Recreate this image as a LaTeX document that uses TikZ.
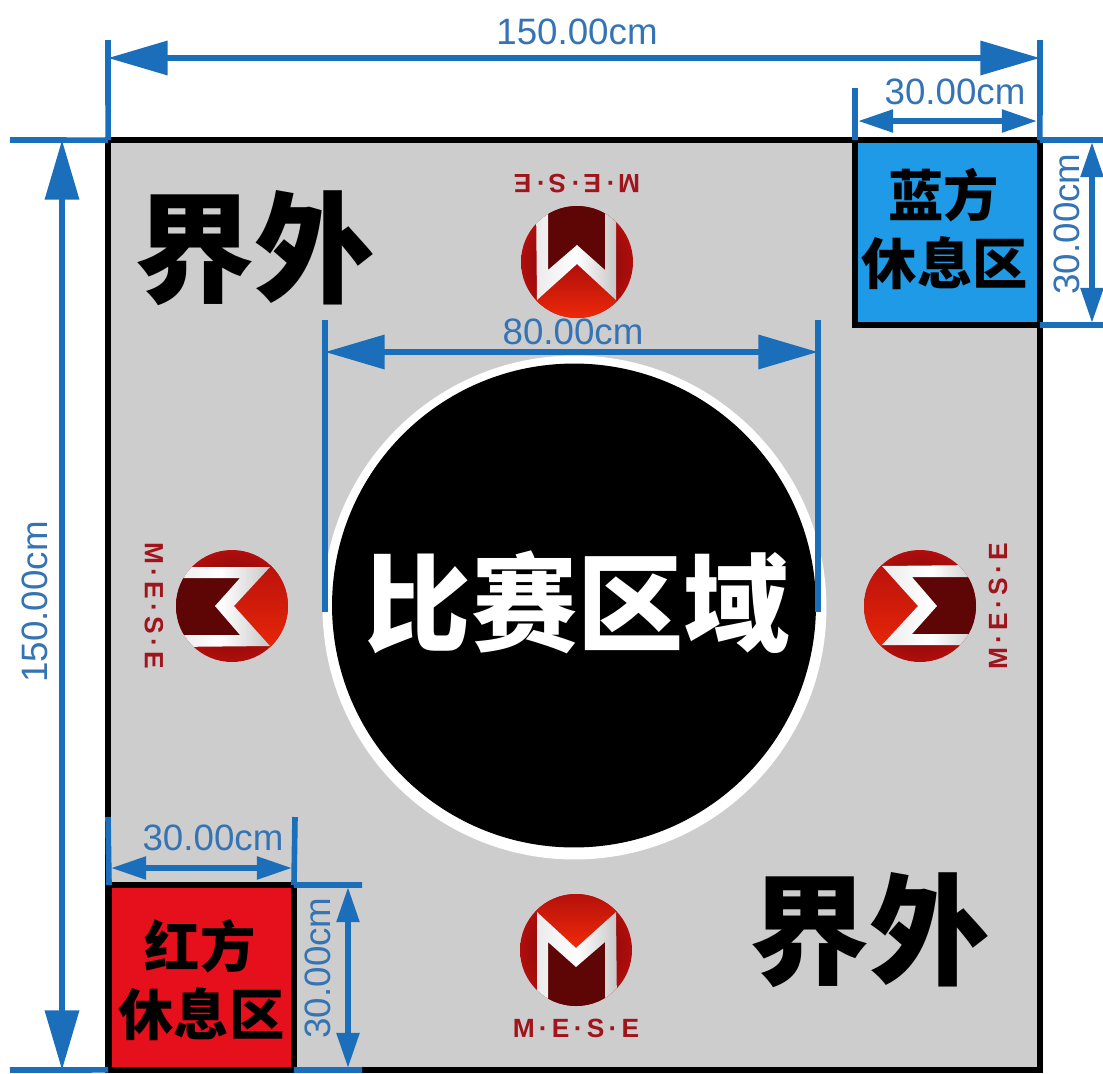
\documentclass[tikz,border=0pt]{standalone}
\usepackage{fontspec}
\setmainfont{Liberation Sans}
\newfontfamily\cjkfont{Noto Sans CJK SC}
\usetikzlibrary{arrows.meta}
\definecolor{dim_blue}{HTML}{1B6FBA}
\definecolor{label_blue}{HTML}{3574B4}
\definecolor{field_grey}{HTML}{CDCDCD}
\definecolor{rest_blue}{HTML}{1F9AE6}
\definecolor{rest_red}{HTML}{E60F1C}
\definecolor{logo_text}{HTML}{A0141C}
\definecolor{logo_dark}{HTML}{5E0506}
\definecolor{logo_mid}{HTML}{B00E0C}
\definecolor{logo_bright}{HTML}{F22A08}
\tikzset{
    arena/.style={rectangle, draw=black, fill=field_grey, line width=3pt, outer sep=0pt, minimum width=18.64cm, minimum height=18.6cm},
    rest_box/.style={rectangle, draw=black, line width=3.2pt, outer sep=0pt, inner sep=0pt, minimum size=3.7cm},
    rest_text/.style={text=black, inner sep=0pt, font=\fontsize{31.5}{36}\selectfont\cjkfont\bfseries},
    out_text/.style={text=black, font=\fontsize{68.5}{72}\selectfont\cjkfont\bfseries},
    dim_label/.style={text=label_blue, inner sep=0pt, font=\fontsize{20.9}{24}\selectfont},
    ext_line/.style={draw=dim_blue, line width=3.2pt},
    big_dim/.style={draw=dim_blue, line width=3.2pt, {Triangle[length=34pt,width=19pt]}-{Triangle[length=34pt,width=19pt]}},
    small_dim/.style={draw=dim_blue, line width=3.2pt, {Triangle[length=20pt,width=12.5pt]}-{Triangle[length=20pt,width=12.5pt]}},
    mese_logo/.pic={
        \begin{scope}
            \clip (0,0) circle (56);
            \shade [inner color=logo_dark, outer color=logo_mid] (0,0) circle (56);
            \shade [top color=logo_mid, bottom color=logo_bright] (-60,-60) -- (60,-60) -- (60,-38) -- (40,-38) -- (0,-2) -- (-39,-38) -- (-60,-38) -- cycle;
            \fill [logo_dark] (-28,-8) -- (0,17) -- (29,-8) -- (29,60) -- (-28,60) -- cycle;
            \shade [left color=black!8, right color=black!22, middle color=white] (-39,-38) -- (0,-2) -- (40,-38) -- (41,60) -- (29,60) -- (29,-8) -- (0,17) -- (-28,-8) -- (-28,60) -- (-39,60) -- cycle;
        \end{scope}
        \node (-text) [transform shape, text=logo_text, inner sep=0pt] at (0,78)
            {\fontsize{15}{18}\selectfont\addfontfeature{LetterSpace=16}\bfseries M·E·S·E};
    },
}
\begin{document}
\begin{tikzpicture}[x=0.02cm, y=-0.02cm]
      \useasboundingbox (0,0) rectangle (1103,1073);
      %%%%%%%%%%%%%
      % PLAYFIELD %
      %%%%%%%%%%%%%
      \node (field) [arena] at (574,605) {};
      \node (ring) [circle, fill=white, minimum size=10.08cm, inner sep=0pt] at (574.5,607.5) {};
      \node (zone) [circle, fill=black, minimum size=9.68cm, inner sep=0pt] at (574,605.5) {};
      \node (zone_text) [text=white, inner sep=0pt, font=\fontsize{60.5}{64}\selectfont\cjkfont\bfseries] at (577.5,602) {比赛区域};
      \node (out_a) [out_text] at (254.5,248) {界外};
      \node (out_b) [out_text] at (869.5,930) {界外};

      \node (blue_box) [rest_box, fill=rest_blue] at (947.5,232.5) {};
      \node (blue_title) [rest_text] at (943.5,195) {蓝方};
      \node (blue_rest) [rest_text] at (945,263) {休息区};
      \node (red_box) [rest_box, fill=rest_red] at (201.5,977.5) {};
      \node (red_title) [rest_text] at (200,946) {红方};
      \node (red_rest) [rest_text] at (201.5,1014) {休息区};

      %%%%%%%%%
      % LOGOS %
      %%%%%%%%%
      \pic (logo_top) [rotate=180] at (577,262) {mese_logo};
      \pic (logo_left) [rotate=-90] at (232,606) {mese_logo};
      \pic (logo_right) [rotate=90] at (920,606) {mese_logo};
      \pic (logo_bottom) at (576,950) {mese_logo};

      %%%%%%%%%%%%%%
      % DIMENSIONS %
      %%%%%%%%%%%%%%
      \coordinate (top_a) at (108,58);
      \coordinate (top_b) at (1040,58);
      \coordinate (top_ext_a) at (108,40);
      \coordinate (top_ext_b) at (1040,40);
      \draw [ext_line] (top_ext_a) -- (field.north west);
      \draw [ext_line] (top_ext_b) -- (field.north east);
      \draw [big_dim] (top_a) -- (top_b);
      \node (label_top) [dim_label] at (577,32) {150.00cm};

      \coordinate (side_a) at (62,140);
      \coordinate (side_b) at (62,1070);
      \coordinate (side_ext_a) at (10,140);
      \coordinate (side_ext_b) at (10,1070);
      \draw [ext_line] (side_ext_a) -- (field.north west);
      \draw [ext_line] (side_ext_b) -- (field.south west);
      \draw [big_dim] (side_a) -- (side_b);
      \node (label_side) [dim_label, rotate=90] at (35,602) {150.00cm};

      \coordinate (zone_a) at (325,352);
      \coordinate (zone_b) at (818,352);
      \coordinate (zone_ext_a) at (325,320);
      \coordinate (zone_ext_b) at (818,320);
      \coordinate (zone_end_a) at (325,612);
      \coordinate (zone_end_b) at (818,612);
      \draw [ext_line] (zone_ext_a) -- (zone_end_a);
      \draw [ext_line] (zone_ext_b) -- (zone_end_b);
      \draw [big_dim] (zone_a) -- (zone_b);
      \node (label_zone) [dim_label] at (573,332) {80.00cm};

      % blue rest area
      \coordinate (blue_ext_a) at (855,88);
      \coordinate (blue_ext_b) at (1103,140);
      \coordinate (blue_ext_c) at (1103,325);
      \coordinate (blue_a) at (858,121);
      \coordinate (blue_b) at (1037,121);
      \coordinate (blue_c) at (1092,142);
      \coordinate (blue_d) at (1092,323);
      \draw [ext_line] (blue_ext_a) -- (blue_box.north west);
      \draw [ext_line] (blue_ext_b) -- (blue_box.north east);
      \draw [ext_line] (blue_ext_c) -- (blue_box.south east);
      \draw [small_dim] (blue_a) -- (blue_b);
      \draw [small_dim] (blue_c) -- (blue_d);
      \node (label_blue_a) [dim_label] at (955,92) {30.00cm};
      \node (label_blue_b) [dim_label, rotate=90] at (1067,224) {30.00cm};

      % red rest area
      \coordinate (red_ext_a) at (108,817);
      \coordinate (red_ext_b) at (295,817);
      \coordinate (red_ext_c) at (362,885);
      \coordinate (red_ext_d) at (362,1070);
      \coordinate (red_a) at (111,868);
      \coordinate (red_b) at (292,868);
      \coordinate (red_c) at (348,887);
      \coordinate (red_d) at (348,1068);
      \draw [ext_line] (red_ext_a) -- (red_box.north west);
      \draw [ext_line] (red_ext_b) -- (red_box.north east);
      \draw [ext_line] (red_ext_c) -- (red_box.north east);
      \draw [ext_line] (red_ext_d) -- (red_box.south east);
      \draw [small_dim] (red_a) -- (red_b);
      \draw [small_dim] (red_c) -- (red_d);
      \node (label_red_a) [dim_label] at (213,838) {30.00cm};
      \node (label_red_b) [dim_label, rotate=90] at (318,968) {30.00cm};
\end{tikzpicture}
\end{document}
